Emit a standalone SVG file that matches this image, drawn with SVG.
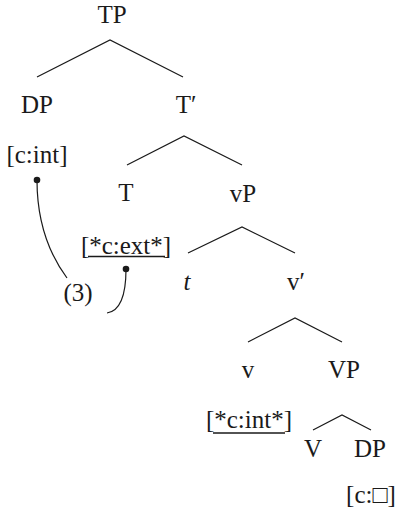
<svg xmlns="http://www.w3.org/2000/svg" width="397" height="526" viewBox="0 0 397 526">
<style>
text{font-family:"Liberation Serif","Times New Roman",serif;font-size:25px;fill:#1a1a1a;text-anchor:middle}
.it{font-style:italic}
.e{stroke:#1a1a1a;stroke-width:1.2;fill:none}
.u{stroke:#1a1a1a;stroke-width:1.6}
.dot{fill:#1a1a1a}
</style>
<rect width="397" height="526" fill="#fff"/>
<g id="connectors">
<polyline class="e" points="37,77 110,40 183,77"/>
<polyline class="e" points="127,165 184,136 242,165"/>
<polyline class="e" points="188,253 242,227 295,253"/>
<polyline class="e" points="248,342 295,318 342,342"/>
<polyline class="e" points="313,430 342,415 371,430"/>
<path class="e" d="M37,180 C37,222 50,255 67,278"/>
<path class="e" d="M126,269 C126,296 120,311 107,313"/>
<circle class="dot" cx="37" cy="180" r="3.3"/>
<circle class="dot" cx="126" cy="269" r="3.3"/>
</g>
<g id="TP"><text x="112" y="23">TP</text></g>
<g id="DP1"><text x="37" y="113">DP</text></g>
<g id="Tbar"><text x="186" y="113">T′</text></g>
<g id="f-cint"><text x="37" y="163">[c:int]</text></g>
<g id="T"><text x="126" y="201">T</text></g>
<g id="vP"><text x="243" y="202">vP</text></g>
<g id="f-cext"><text x="126" y="254">[*c:ext*]</text><line class="u" x1="88" y1="256.5" x2="165" y2="256.5"/></g>
<g id="label3"><text x="78" y="301">(3)</text></g>
<g id="t"><text class="it" x="187" y="290">t</text></g>
<g id="vbar"><text x="296" y="290">v′</text></g>
<g id="v"><text x="248" y="378">v</text></g>
<g id="VP"><text x="344" y="378">VP</text></g>
<g id="f-cint2"><text x="249" y="428">[*c:int*]</text><line class="u" x1="213" y1="433" x2="285" y2="433"/></g>
<g id="V"><text x="313" y="457">V</text></g>
<g id="DP2"><text x="370" y="457">DP</text></g>
<g id="f-cbox"><text x="371" y="503">[c:□]</text></g>
</svg>
